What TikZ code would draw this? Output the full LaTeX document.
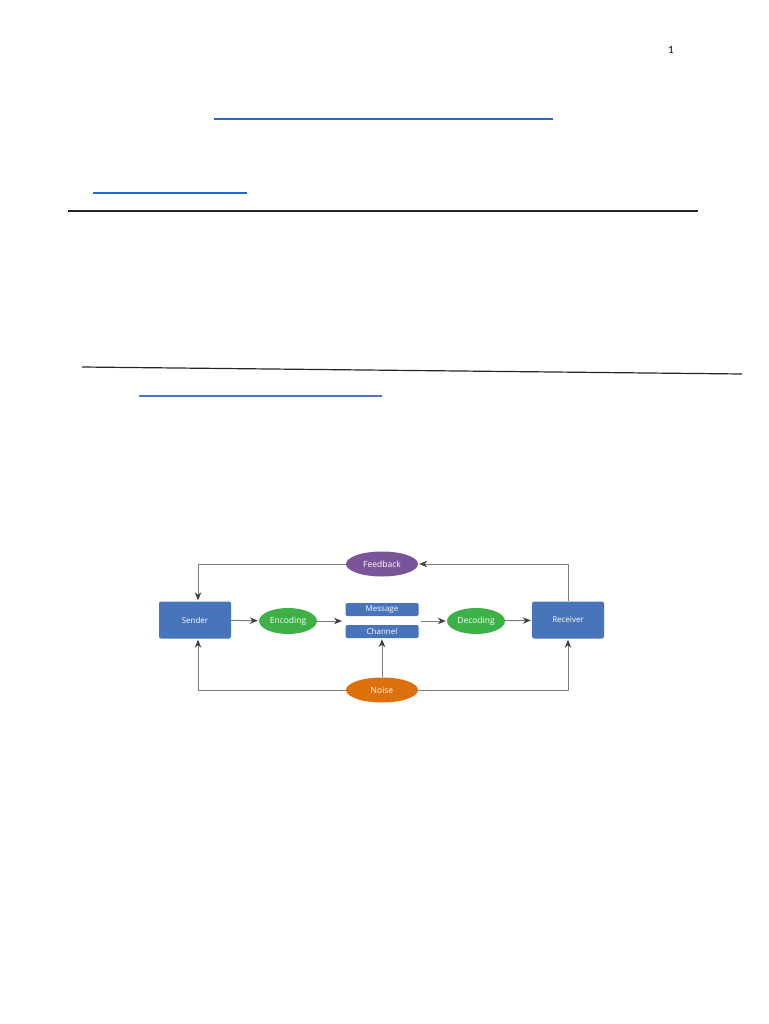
\documentclass[tikz,border=0pt]{standalone}
\usepackage{fontspec}
\setmainfont{Carlito}
\newfontfamily\boxfont{Open Sans}
\usetikzlibrary{shapes.geometric,arrows.meta}
\definecolor{linkblue}{RGB}{40,100,210}
\definecolor{paleblue}{RGB}{80,120,200}
\definecolor{boxblue}{RGB}{72,117,186}
\definecolor{encgreen}{RGB}{62,176,72}
\definecolor{fbpurple}{RGB}{122,84,152}
\definecolor{noiseorange}{RGB}{220,112,12}
\definecolor{wiregray}{RGB}{125,125,125}
\tikzset{
  block/.style={rectangle, rounded corners=2pt, fill=boxblue, text=white, font=\boxfont\fontsize{8}{9}\selectfont, minimum width=72, minimum height=37, inner sep=0},
  slot/.style={rectangle, rounded corners=1.5pt, fill=boxblue, text=white, font=\boxfont\fontsize{8}{9}\selectfont, minimum width=73, minimum height=13, inner sep=0},
  oval/.style={ellipse, text=white, font=\boxfont\fontsize{8.5}{9}\selectfont, minimum width=58, minimum height=26, inner sep=0},
  flow/.style={draw=wiregray, line width=1pt, shorten >=1pt, -{Stealth[length=8pt,width=6.5pt,color=black!75]}},
  wire/.style={draw=wiregray, line width=1pt}
}
\begin{document}
\begin{tikzpicture}[x=1pt,y=-1pt, line join=round]
  \useasboundingbox (0,0) rectangle (768,1024);
  % page header
  \node[font=\fontsize{11}{12}\selectfont] (pageno) at (671,50) {1};
  \draw[linkblue, line width=2pt] (214,119) -- (553,119);
  \draw[linkblue, line width=2pt] (93,193) -- (247,193);
  \draw[black!85, line width=1.3pt] (68,211) -- (698,211);
  \draw[black!85, line width=1.2pt] (82,367) -- (742,374);
  \draw[paleblue, line width=1.2pt] (139,396) -- (382,396);
  % communication model
  \node[block] (sender) at (195,620) {Sender};
  \node[block] (receiver) at (568,620) {Receiver};
  \node[oval, fill=encgreen] (enc) at (288,621) {Encoding};
  \node[oval, fill=encgreen] (dec) at (476,621) {Decoding};
  \node[slot] (msg) at (382,609.5) {Message};
  \node[slot] (chn) at (382,631.5) {Channel};
  \node[oval, fill=fbpurple, minimum width=72, minimum height=25] (fb) at (382,564) {Feedback};
  \node[oval, fill=noiseorange, minimum width=72, minimum height=25] (noise) at (382,690) {Noise};
  \path
  (343,621) coordinate (chin)
  (421,621) coordinate (chout)
  ;
  \draw[flow] (sender) -- (enc);
  \draw[flow] (enc) -- (chin);
  \draw[flow] (chout) -- (dec);
  \draw[flow] (dec) -- (receiver);
  \draw[flow] (receiver.north) |- (fb.east);
  \draw[flow] (fb.west) -| ([xshift=3pt]sender.north);
  \draw[flow] (noise) -- (chn);
  \draw[flow] (noise.west) -| ([xshift=3pt]sender.south);
  \draw[flow] (noise.east) -| (receiver.south);
\end{tikzpicture}
\end{document}
